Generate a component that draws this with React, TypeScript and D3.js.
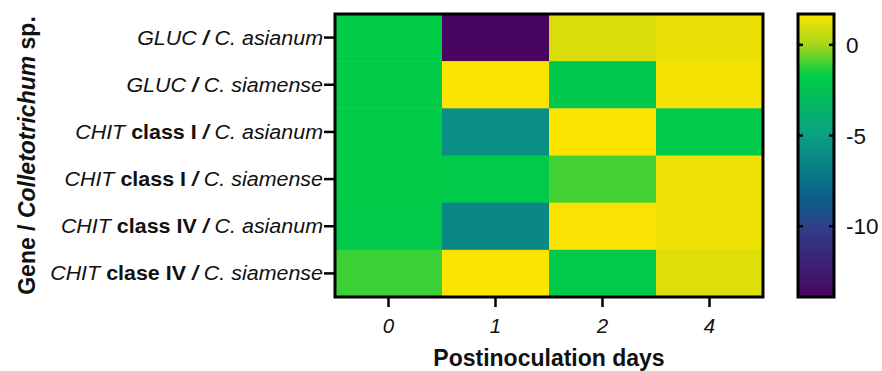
import * as d3 from 'd3';

// Heatmap data (log2 fold change)
const days = ['0', '1', '2', '4'];
const rowLabels = [
  { gene: 'GLUC', cls: '', sp: 'C. asianum' },
  { gene: 'GLUC', cls: '', sp: 'C. siamense' },
  { gene: 'CHIT', cls: 'class I', sp: 'C. asianum' },
  { gene: 'CHIT', cls: 'class I', sp: 'C. siamense' },
  { gene: 'CHIT', cls: 'class IV', sp: 'C. asianum' },
  { gene: 'CHIT', cls: 'clase IV', sp: 'C. siamense' },
];
const values = [
  [-1.8, -13.9, 1.0, 1.3],
  [-1.8, 1.7, -2.1, 1.5],
  [-1.8, -5.9, 1.7, -2.0],
  [-1.8, -1.9, -1.0, 1.4],
  [-1.9, -6.3, 1.6, 1.4],
  [-1.1, 1.7, -1.9, 1.1],
];
const colorTicks = [0, -5, -10];
const colorStopValues = [1.7, 0, -1.7, -5, -8.5, -10.2, -13.9];
const colorStopColors = ['#fde400', '#a6d61a', '#00cd46', '#0aa082', '#0c5f8c', '#313c88', '#480660'];

const W = 882;
const H = 371;
const plot = { left: 335, right: 763, top: 14, bottom: 297 };
const bar = { left: 798, right: 834 };
const font = '"Liberation Sans", Arial, sans-serif';

export default function App() {
  const x = d3.scaleBand().domain(days).range([plot.left, plot.right]);
  const y = d3.scaleBand().domain(rowLabels.map((_, i) => String(i))).range([plot.top, plot.bottom]);
  const color = d3.scaleLinear<string>().domain(colorStopValues).range(colorStopColors).clamp(true);
  const cy = d3.scaleLinear().domain([1.7, -13.9]).range([plot.top, plot.bottom]);

  return (
    <svg width={W} height={H} style={{ position: 'absolute', left: 0, top: 0 }} fontFamily={font}>
      <defs>
        <linearGradient id="cbar" x1="0" y1="0" x2="0" y2="1">
          {colorStopValues.map((v, i) => (
            <stop key={i} offset={(cy(v) - plot.top) / (plot.bottom - plot.top)} stopColor={colorStopColors[i]} />
          ))}
        </linearGradient>
      </defs>

      {/* cells */}
      {values.map((row, r) =>
        row.map((v, c) => (
          <rect
            key={`${r}-${c}`}
            x={x(days[c])}
            y={y(String(r))}
            width={x.bandwidth() + 0.5}
            height={y.bandwidth() + 0.5}
            fill={color(v)}
          />
        ))
      )}
      <rect x={plot.left} y={plot.top} width={plot.right - plot.left} height={plot.bottom - plot.top}
        fill="none" stroke="#000" strokeWidth={3} />

      {/* y ticks + labels */}
      {rowLabels.map((d, i) => {
        const yy = (y(String(i)) as number) + y.bandwidth() / 2;
        return (
          <g key={i}>
            <line x1={plot.left - 11} x2={plot.left} y1={yy} y2={yy} stroke="#000" strokeWidth={2.5} />
            <text transform={`translate(${plot.left - 12},${yy + 7}) scale(1.1,1)`} textAnchor="end"
              fontSize={19.5} fill="#111">
              <tspan fontStyle="italic">{d.gene}</tspan>
              {d.cls ? <tspan fontWeight="bold">{' ' + d.cls}</tspan> : null}
              <tspan fontStyle="italic" fontWeight="bold">{' / '}</tspan>
              <tspan fontStyle="italic">{d.sp}</tspan>
            </text>
          </g>
        );
      })}

      {/* x ticks + labels */}
      {days.map((d) => {
        const xx = (x(d) as number) + x.bandwidth() / 2;
        return (
          <g key={d}>
            <line x1={xx} x2={xx} y1={plot.bottom} y2={plot.bottom + 10} stroke="#000" strokeWidth={2.5} />
            <text x={xx} y={333} textAnchor="middle" fontSize={20.5} fontStyle="italic" fill="#111">{d}</text>
          </g>
        );
      })}

      <text x={(plot.left + plot.right) / 2} y={366} textAnchor="middle" fontSize={23} fontWeight="bold" fill="#111">
        Postinoculation days
      </text>

      <text transform={`translate(35,${(plot.top + plot.bottom) / 2}) rotate(-90)`} textAnchor="middle"
        fontSize={23} fontWeight="bold" fill="#111">
        Gene / <tspan fontStyle="italic">Colletotrichum</tspan> sp.
      </text>

      {/* color bar */}
      <rect x={bar.left} y={plot.top} width={bar.right - bar.left} height={plot.bottom - plot.top}
        fill="url(#cbar)" stroke="#000" strokeWidth={3} />
      {colorTicks.map((t) => (
        <g key={t}>
          <line x1={bar.left} x2={bar.left + 5} y1={cy(t)} y2={cy(t)} stroke="#000" strokeWidth={2.5} />
          <line x1={bar.right - 5} x2={bar.right} y1={cy(t)} y2={cy(t)} stroke="#000" strokeWidth={2.5} />
          <text x={846} y={cy(t) + 8} fontSize={22.5} fill="#111">{t === 0 ? '0' : String(t)}</text>
        </g>
      ))}
    </svg>
  );
}
